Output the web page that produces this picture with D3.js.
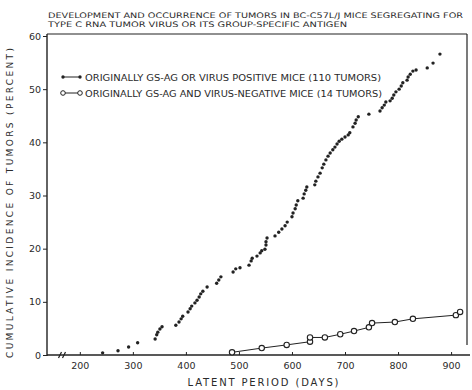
<!DOCTYPE html>
<html>
<head>
<meta charset="utf-8">
<script src="https://cdn.jsdelivr.net/npm/d3@7"></script>
<style>
  body { margin: 0; background: #fff; }
  svg { display: block; }
  text { font-family: "DejaVu Sans", sans-serif; fill: #2a2a2a; }
</style>
</head>
<body>
<div id="chart"></div>
<script>
// positive mice (110 tumors): latent period in days, cumulative incidence %
const posDays = [243, 272, 292, 309, 342, 345, 347, 351, 355, 381, 387, 391, 394, 404, 408, 411, 417, 421, 425, 428,
  432, 440, 458, 462, 466, 489, 494, 502, 519, 523, 525, 534, 540, 543, 549, 551, 551, 553, 568, 575,
  581, 587, 591, 600, 602, 606, 608, 611, 621, 623, 626, 628, 643, 645, 649, 653, 657, 660, 664, 668,
  672, 677, 681, 685, 689, 694, 700, 706, 709, 715, 719, 721, 725, 745, 766, 770, 774, 777, 785, 789,
  792, 796, 802, 806, 809, 817, 819, 823, 828, 834, 855, 866, 879];
const posPct = [0.4, 0.8, 1.5, 2.3, 3.0, 3.8, 4.3, 4.9, 5.3, 5.6, 6.2, 6.8, 7.3, 8.1, 8.7, 9.2, 9.8, 10.3, 10.9, 11.5,
  12.0, 12.8, 13.5, 14.1, 14.7, 15.6, 16.2, 16.4, 16.9, 17.7, 18.2, 18.6, 19.2, 19.6, 19.9, 20.7, 21.3, 22.0, 22.4, 23.1,
  23.7, 24.3, 25.0, 26.0, 26.7, 27.5, 28.2, 29.0, 29.5, 30.3, 31.0, 31.6, 32.0, 32.7, 33.5, 34.2, 35.2, 35.9, 36.7, 37.4,
  38.0, 38.6, 39.1, 39.7, 40.2, 40.6, 41.0, 41.4, 41.8, 42.9, 43.6, 44.2, 44.8, 45.3, 45.9, 46.5, 47.0, 47.6, 47.8, 48.3,
  48.9, 49.5, 50.0, 50.6, 51.2, 51.7, 52.3, 52.8, 53.4, 53.6, 54.0, 54.9, 56.6];

// negative mice (14 tumors)
const negDays = [487, 543, 590, 634, 634, 662, 691, 717, 745, 751, 794, 828, 909, 917];
const negPct = [0.5, 1.3, 1.9, 2.5, 3.3, 3.3, 3.9, 4.5, 5.2, 6.0, 6.2, 6.8, 7.5, 8.1];

const xTicks = [200, 300, 400, 500, 600, 700, 800, 900];
const yTicks = [0, 10, 20, 30, 40, 50, 60];

const titleLines = [
  'DEVELOPMENT AND OCCURRENCE OF TUMORS IN BC-C57L/J MICE SEGREGATING FOR',
  'TYPE C RNA TUMOR VIRUS OR ITS GROUP-SPECIFIC ANTIGEN'
];
const legendLabels = [
  'ORIGINALLY GS-AG OR VIRUS POSITIVE MICE (110 TUMORS)',
  'ORIGINALLY GS-AG AND VIRUS-NEGATIVE MICE (14 TUMORS)'
];

const W = 472, H = 390;
const ink = '#222';

const svg = d3.select('#chart').append('svg')
  .attr('width', W)
  .attr('height', H);

const x = d3.scaleLinear().domain([140, 930]).range([48, 467]);
const y = d3.scaleLinear().domain([0, 60]).range([355, 36]);

// title
svg.append('text').attr('x', 48).attr('y', 17.5)
  .attr('font-size', 7.6).attr('textLength', 415).attr('lengthAdjust', 'spacingAndGlyphs')
  .text(titleLines[0]);
svg.append('text').attr('x', 48).attr('y', 26.5)
  .attr('font-size', 7.6).attr('textLength', 299).attr('lengthAdjust', 'spacingAndGlyphs')
  .text(titleLines[1]);

// frame top + right
svg.append('line').attr('x1', 47).attr('x2', 467).attr('y1', 34).attr('y2', 34)
  .attr('stroke', ink).attr('stroke-width', 1.2);
svg.append('line').attr('x1', 467).attr('x2', 467).attr('y1', 34).attr('y2', 345)
  .attr('stroke', ink).attr('stroke-width', 1.2);

// y axis
const yAxis = svg.append('g')
  .attr('transform', 'translate(47,0)')
  .call(d3.axisLeft(y).tickValues(yTicks).tickSize(4).tickPadding(2));
yAxis.select('.domain').attr('stroke', ink).attr('stroke-width', 1.4).attr('d', 'M0,34V356');
yAxis.selectAll('.tick line').attr('stroke', ink);
yAxis.selectAll('.tick text').attr('font-size', 9.5).attr('font-family', '"DejaVu Sans", sans-serif').attr('fill', '#444');

// x axis
const xAxis = svg.append('g')
  .attr('transform', 'translate(0,355)')
  .call(d3.axisBottom(x).tickValues(xTicks).tickSize(-3).tickPadding(7));
xAxis.select('.domain').attr('stroke', ink).attr('stroke-width', 1.4).attr('d', 'M47,0H470');
xAxis.selectAll('.tick line').attr('stroke', ink);
xAxis.selectAll('.tick text').attr('font-size', 9.5).attr('font-family', '"DejaVu Sans", sans-serif').attr('fill', '#444');

// axis break marks
[60, 64].forEach(bx => {
  svg.append('line').attr('x1', bx - 1.5).attr('x2', bx + 1.5).attr('y1', 358).attr('y2', 352)
    .attr('stroke', ink).attr('stroke-width', 1.2);
});

// axis titles
svg.append('text')
  .attr('transform', 'translate(13,203) rotate(-90)')
  .attr('text-anchor', 'middle').attr('fill', '#555')
  .attr('font-size', 9).attr('textLength', 310).attr('lengthAdjust', 'spacing')
  .text('CUMULATIVE INCIDENCE OF TUMORS (PERCENT)');
svg.append('text')
  .attr('x', 263).attr('y', 386)
  .attr('text-anchor', 'middle').attr('fill', '#333')
  .attr('font-size', 10).attr('textLength', 151).attr('lengthAdjust', 'spacing')
  .text('LATENT PERIOD (DAYS)');

// negative series: line + open circles
const neg = negDays.map((d, i) => ({ day: d, pct: negPct[i] }));
const line = d3.line().x(d => x(d.day)).y(d => y(d.pct));
svg.append('path').datum(neg)
  .attr('fill', 'none').attr('stroke', ink).attr('stroke-width', 1)
  .attr('d', line);
svg.selectAll('.neg').data(neg).enter().append('circle')
  .attr('class', 'neg')
  .attr('cx', d => x(d.day)).attr('cy', d => y(d.pct)).attr('r', 2.7)
  .attr('fill', '#fff').attr('stroke', ink).attr('stroke-width', 1.1);

// positive series: filled dots
const pos = posDays.map((d, i) => ({ day: d, pct: posPct[i] }));
svg.selectAll('.pos').data(pos).enter().append('circle')
  .attr('class', 'pos')
  .attr('cx', d => x(d.day)).attr('cy', d => y(d.pct)).attr('r', 1.7)
  .attr('fill', ink);

// legend
const lg = svg.append('g');
lg.append('line').attr('x1', 63).attr('x2', 80).attr('y1', 77).attr('y2', 77).attr('stroke', ink);
lg.append('circle').attr('cx', 63).attr('cy', 77).attr('r', 1.7).attr('fill', ink);
lg.append('circle').attr('cx', 80).attr('cy', 77).attr('r', 1.7).attr('fill', ink);
lg.append('text').attr('x', 85).attr('y', 80.5).attr('font-size', 8.2)
  .attr('textLength', 296).attr('lengthAdjust', 'spacingAndGlyphs').text(legendLabels[0]);

lg.append('line').attr('x1', 63).attr('x2', 80).attr('y1', 93).attr('y2', 93).attr('stroke', ink);
lg.append('circle').attr('cx', 63).attr('cy', 93).attr('r', 2.3).attr('fill', '#fff').attr('stroke', ink);
lg.append('circle').attr('cx', 80).attr('cy', 93).attr('r', 2.3).attr('fill', '#fff').attr('stroke', ink);
lg.append('text').attr('x', 85).attr('y', 96.5).attr('font-size', 8.2)
  .attr('textLength', 297).attr('lengthAdjust', 'spacingAndGlyphs').text(legendLabels[1]);
</script>
</body>
</html>
